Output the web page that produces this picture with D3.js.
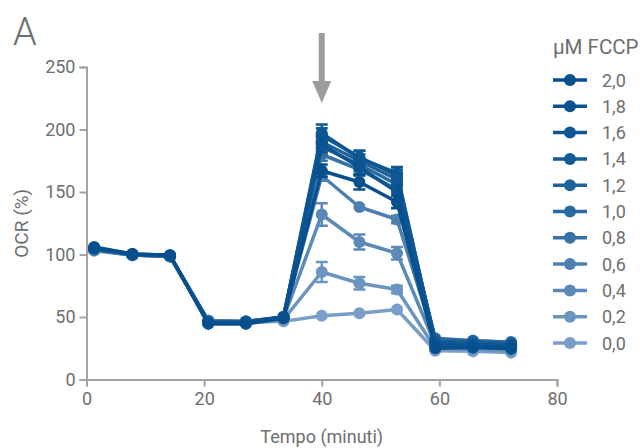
<!DOCTYPE html>
<html><head><meta charset="utf-8">
<script src="https://cdn.jsdelivr.net/npm/d3@7"></script>
<style>body{margin:0;background:#fff}text{font-family:Roboto,"Noto Sans",sans-serif}</style>
</head><body><svg id="c" width="643" height="448"></svg>
<script>
const times = [1.3, 7.8, 14.2, 20.7, 27.1, 33.5, 40.0, 46.4, 52.8, 59.3, 65.7, 72.2];
const concentrations = ["2,0","1,8","1,6","1,4","1,2","1,0","0,8","0,6","0,4","0,2","0,0"];
const colors = ["#084f8d","#0b5391","#0e5794","#135b97","#1f639b","#2b6aa0","#3772a7","#4d80b1","#5b8ab8","#6a95c0","#7a9ec8"];
const values = [
  [106, 100.5, 99.5, 44.5, 44.5, 49, 167, 158, 142, 25, 25.5, 24.5],
  [105.5, 100.5, 99.5, 45, 45, 49.5, 188, 170, 150, 27, 27, 26],
  [105, 100, 99, 45.5, 45.5, 50, 197, 177, 165, 29, 28, 27],
  [105, 100, 99, 46, 46, 50, 195, 178, 163, 30, 29, 28],
  [104.5, 100, 99, 46, 46, 50, 190, 175, 160, 31, 30, 29],
  [104.5, 100, 99, 46.5, 46.5, 50, 186, 172, 156, 32, 31, 29.5],
  [104, 99.5, 98.5, 46.5, 46.5, 50, 180, 168, 152, 33, 31, 30],
  [104, 99.5, 98.5, 47, 46.5, 49.5, 163, 138, 128, 31, 29.5, 28],
  [103.5, 99.5, 98.5, 47, 46.5, 49, 132, 110, 101, 28, 27, 26],
  [103.5, 99.5, 98.5, 47, 46, 48, 86, 77, 72, 25, 24, 23],
  [103, 99.5, 98.5, 47, 45.5, 46.5, 51, 53, 56, 23, 22.5, 21.5]
];
const errors = [
  [1, 1, 1, 1, 1, 1, 5, 6, 5, 1, 1, 1],
  [1, 1, 1, 1, 1, 1, 6, 6, 6, 1, 1, 1],
  [1, 1, 1, 1, 1, 1, 7, 6, 5, 1, 1, 1],
  [1, 1, 1, 1, 1, 1, 6, 5, 5, 1, 1, 1],
  [1, 1, 1, 1, 1, 1, 6, 5, 5, 1, 1, 1],
  [1, 1, 1, 1, 1, 1, 6, 5, 5, 1, 1, 1],
  [1, 1, 1, 1, 1, 1, 5, 5, 5, 1, 1, 1],
  [1, 1, 1, 1, 1, 1, 4, 2, 3, 1, 1, 1],
  [1, 1, 1, 1, 1, 1, 9, 6, 5, 1, 1, 1],
  [1, 1, 1, 1, 1, 1, 8, 5, 3, 1, 1, 1],
  [1, 1, 1, 1, 1, 1, 2, 2, 2, 1, 1, 1]
];
const xTicks = [0, 20, 40, 60, 80];
const yTicks = [0, 50, 100, 150, 200, 250];
const arrowTime = 40;

const svg = d3.select("#c");
const x = d3.scaleLinear().domain([0, 80]).range([86.5, 557]);
const y = d3.scaleLinear().domain([0, 250]).range([379.5, 67]);
const axisColor = "#a3a3a3", textColor = "#6e6e6e";

const gx = svg.append("g").attr("transform", `translate(0,${y(0)})`)
  .call(d3.axisBottom(x).tickValues(xTicks).tickSize(7).tickPadding(6).tickFormat(d3.format("d")));
const gy = svg.append("g").attr("transform", `translate(${x(0)},0)`)
  .call(d3.axisLeft(y).tickValues(yTicks).tickSize(7).tickPadding(4).tickFormat(d3.format("d")));
[gx, gy].forEach(g => {
  g.select(".domain").attr("stroke", axisColor).attr("stroke-width", 2);
  g.selectAll(".tick line").attr("stroke", axisColor).attr("stroke-width", 2);
  g.selectAll(".tick text").attr("fill", textColor).style("font-size", "18px");
});

svg.append("text").attr("x", x(40)).attr("y", 443).attr("text-anchor", "middle")
  .attr("fill", textColor).style("font-size", "18px").text("Tempo (minuti)");
svg.append("text").attr("transform", `translate(28,${y(125)}) rotate(-90)`).attr("text-anchor", "middle")
  .attr("fill", textColor).style("font-size", "19px").text("OCR (%)");
svg.append("text").attr("x", 13).attr("y", 45).attr("fill", textColor)
  .style("font-size", "38px").style("font-weight", 300).text("A");

const ax = x(arrowTime);
svg.append("rect").attr("x", ax - 3).attr("y", 33).attr("width", 6).attr("height", 50).attr("fill", "#9c9c9c");
svg.append("path").attr("d", `M${ax - 9.5},81 L${ax + 9.5},81 L${ax},103 Z`).attr("fill", "#9c9c9c");

const line = d3.line().x(d => x(d[0])).y(d => y(d[1]));
for (let s = values.length - 1; s >= 0; s--) {
  const pts = times.map((t, i) => [t, values[s][i], errors[s][i]]);
  const g = svg.append("g");
  g.append("path").attr("d", line(pts)).attr("fill", "none").attr("stroke", colors[s])
    .attr("stroke-width", 3.5).attr("stroke-linejoin", "round");
  pts.forEach(p => {
    if (p[2] > 2.5) {
      g.append("line").attr("x1", x(p[0])).attr("x2", x(p[0])).attr("y1", y(p[1] - p[2])).attr("y2", y(p[1] + p[2]))
        .attr("stroke", colors[s]).attr("stroke-width", 2.5);
      [p[1] - p[2], p[1] + p[2]].forEach(v => g.append("line").attr("x1", x(p[0]) - 6).attr("x2", x(p[0]) + 6)
        .attr("y1", y(v)).attr("y2", y(v)).attr("stroke", colors[s]).attr("stroke-width", 2.5));
    }
    g.append("circle").attr("cx", x(p[0])).attr("cy", y(p[1])).attr("r", 6).attr("fill", colors[s]);
  });
}

svg.append("text").attr("x", 553).attr("y", 54).attr("fill", textColor).style("font-size", "20.5px").text("μM FCCP");
concentrations.forEach((c, i) => {
  const cy = 80 + i * 26.3;
  const g = svg.append("g");
  g.append("line").attr("x1", 553).attr("x2", 587).attr("y1", cy).attr("y2", cy).attr("stroke", colors[i]).attr("stroke-width", 3.5);
  g.append("circle").attr("cx", 570).attr("cy", cy).attr("r", 6).attr("fill", colors[i]);
  g.append("text").attr("x", 602).attr("y", cy + 6.5).attr("fill", textColor).style("font-size", "18px").text(c);
});
</script></body></html>
